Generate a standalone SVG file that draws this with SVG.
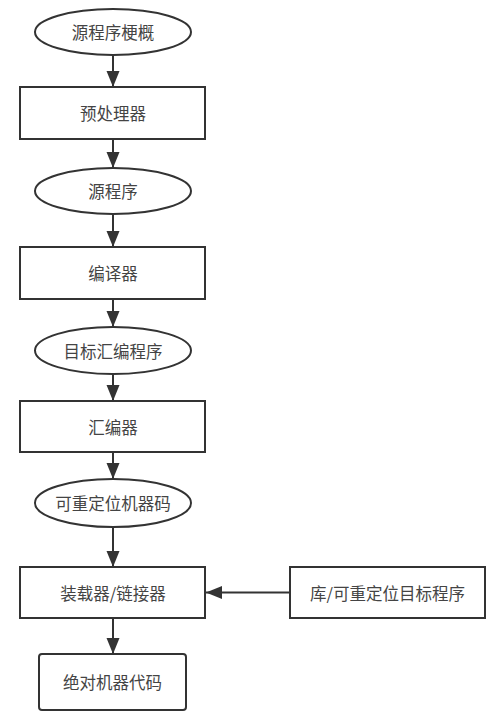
<svg xmlns="http://www.w3.org/2000/svg" width="500" height="722" viewBox="0 0 500 722">
<style>
.s{fill:#fff;stroke:#333;stroke-width:2}
.t{font-family:"Noto Sans CJK SC","Liberation Sans",sans-serif;font-size:16.5px;fill:#444;text-anchor:middle;dominant-baseline:central}
.c{stroke:#333;stroke-width:2;fill:none;marker-end:url(#a)}
</style>
<defs>
<marker id="a" markerUnits="userSpaceOnUse" markerWidth="16" markerHeight="14" refX="16" refY="7" orient="auto">
<path d="M0,0.5 L16,7 L0,13.5 Z" fill="#333"/>
</marker>
</defs>
<rect width="500" height="722" fill="#fff"/>
<g id="connectors">
<line class="c" x1="113" y1="55" x2="113" y2="87"/>
<line class="c" x1="113" y1="139" x2="113" y2="168"/>
<line class="c" x1="113" y1="214" x2="113" y2="247"/>
<line class="c" x1="113" y1="299" x2="113" y2="327"/>
<line class="c" x1="113" y1="374" x2="113" y2="401"/>
<line class="c" x1="113" y1="452" x2="113" y2="479"/>
<line class="c" x1="113" y1="527" x2="113" y2="567"/>
<line class="c" x1="113" y1="618" x2="113" y2="654"/>
<line class="c" x1="290" y1="592.5" x2="206" y2="592.5"/>
</g>
<g id="n1"><ellipse class="s" cx="113" cy="32" rx="78" ry="23"/><text class="t" x="113" y="32">源程序梗概</text></g>
<g id="n2"><rect class="s" x="20" y="87" width="185" height="52"/><text class="t" x="113" y="113">预处理器</text></g>
<g id="n3"><ellipse class="s" cx="113" cy="191" rx="78" ry="23"/><text class="t" x="113" y="191">源程序</text></g>
<g id="n4"><rect class="s" x="20" y="247" width="185" height="52"/><text class="t" x="113" y="273">编译器</text></g>
<g id="n5"><ellipse class="s" cx="113" cy="350.5" rx="78" ry="23.5"/><text class="t" x="113" y="350.5">目标汇编程序</text></g>
<g id="n6"><rect class="s" x="20" y="401" width="185" height="51"/><text class="t" x="113" y="426.5">汇编器</text></g>
<g id="n7"><ellipse class="s" cx="113" cy="503" rx="78" ry="24"/><text class="t" x="113" y="503">可重定位机器码</text></g>
<g id="n8"><rect class="s" x="20" y="567" width="185" height="51"/><text class="t" x="113" y="592.5">装载器/链接器</text></g>
<g id="n9"><rect class="s" x="290" y="567" width="195" height="51"/><text class="t" x="387.5" y="592.5">库/可重定位目标程序</text></g>
<g id="n10"><rect class="s" x="39" y="654" width="147" height="56" rx="3"/><text class="t" x="112.5" y="682">绝对机器代码</text></g>
</svg>
